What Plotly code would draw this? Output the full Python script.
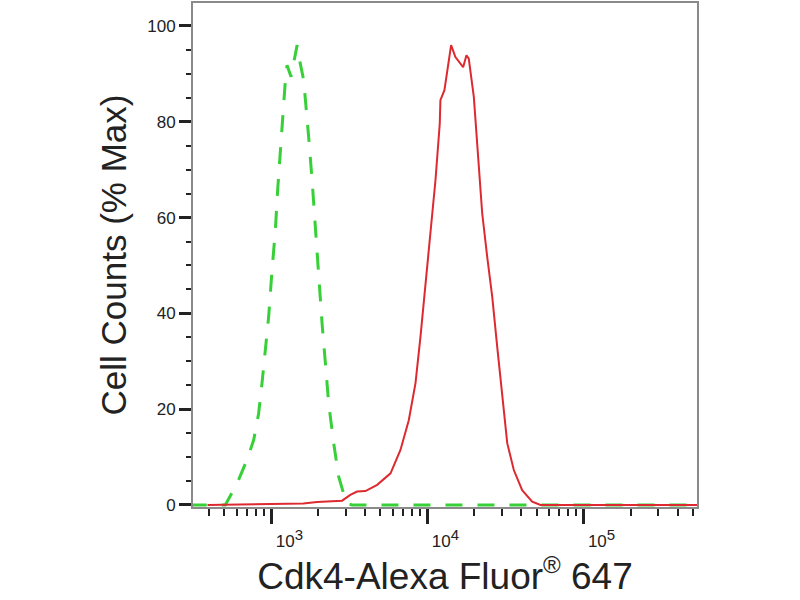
import plotly.graph_objects as go

# Isotype control (green, dashed) - fluorescence vs % of max
control_x = [300, 507, 603, 698, 771, 829, 871, 915, 961, 1010, 1061, 1097, 1142, 1188,
             1230, 1261, 1337, 1462, 1518, 1611, 1676, 1734, 1824, 1915, 2011, 2113,
             2219, 2330, 2508, 2700, 2904, 3054, 3300, 600000]
control_y = [0, 0, 4.5, 9.4, 13.6, 19.1, 25.4, 32.3, 39.3, 49.0, 57.4, 65.7, 74.1, 82.4,
             88.7, 91.8, 89.4, 96.0, 92.8, 88.7, 83.1, 76.8, 67.8, 57.4, 46.9, 37.9,
             29.6, 21.2, 12.9, 5.9, 2.4, 0.3, 0, 0]

# Cdk4 stained sample (red)
cdk4_x = [390, 1603, 1963, 2839, 3206, 3540, 4006, 4765, 5800, 6717, 7594, 8381, 9022,
          9713, 10457, 11258, 11991, 12110, 12846, 13362, 14180, 15108, 15871, 16933,
          17783, 18398, 19822, 20833, 22430, 24151, 26002, 27995, 30141, 32452, 35759,
          40444, 46899, 52985, 600000]
cdk4_y = [0, 0.3, 0.6, 0.9, 2.1, 2.8, 2.9, 4.2, 6.6, 11.5, 17.7, 25.4, 35.1,
          46.3, 57.4, 67.8, 79.6, 84.5, 86.6, 90.8, 96.0, 93.5, 92.5, 91.4,
          93.9, 93.2, 85.2, 74.8, 60.9, 51.8, 43.5, 33.0, 22.6, 12.9, 7.3,
          3.1, 0.7, 0, 0]

x_major = [1e3, 1e4, 1e5]
x_major_text = ['10<sup><span style="font-size:15px">3</span></sup>',
                '10<sup><span style="font-size:15px">4</span></sup>',
                '10<sup><span style="font-size:15px">5</span></sup>']
x_minor = [m * 10 ** e for e in (2, 3, 4, 5) for m in range(2, 10)]

fig = go.Figure()
fig.add_trace(go.Scatter(x=control_x, y=control_y, mode="lines",
                         line=dict(color="#38d038", width=3, dash="17px,15px"),
                         name="Isotype"))
fig.add_trace(go.Scatter(x=cdk4_x, y=cdk4_y, mode="lines",
                         line=dict(color="#dc2a30", width=2),
                         name="Cdk4"))

fig.update_layout(
    width=800, height=600,
    margin=dict(l=193, r=103, t=3, b=93),
    paper_bgcolor="white", plot_bgcolor="white",
    showlegend=False,
    font=dict(family="Liberation Sans, Arial", color="#222"),
)
fig.update_xaxes(
    type="log", range=[2.498, 5.727], automargin=False,
    showgrid=False, zeroline=False,
    showline=True, linecolor="#8a8a8a", linewidth=2, mirror=True,
    tickmode="array", tickvals=x_major, ticktext=x_major_text,
    ticks="outside", ticklen=15, tickwidth=2.5, tickcolor="#222",
    ticklabelshift=18, ticklabelstandoff=3,
    tickfont=dict(size=17, color="#222"),
    minor=dict(tickmode="array", tickvals=x_minor, ticks="outside",
               ticklen=7, tickwidth=1.5, tickcolor="#222"),
    title=dict(text='Cdk4-Alexa Fluor<sup><span style="font-size:24px">®</span></sup> 647',
               font=dict(size=37, color="#222"), standoff=0),
)
fig.update_yaxes(
    range=[-0.42, 104.8], automargin=False,
    showgrid=False, zeroline=False,
    showline=True, linecolor="#8a8a8a", linewidth=2, mirror=True,
    tickmode="array", tickvals=[0, 20, 40, 60, 80, 100],
    ticks="outside", ticklen=12, tickwidth=2.5, tickcolor="#222",
    tickfont=dict(size=17, color="#222"),
    minor=dict(tickmode="array", tickvals=[5, 10, 15, 25, 30, 35, 45, 50, 55, 65, 70, 75, 85, 90, 95],
               ticks="outside", ticklen=5, tickwidth=1.5, tickcolor="#222"),
    title=dict(text="Cell Counts (% Max)", font=dict(size=35, color="#222"), standoff=10),
)

# page body has a default 8px margin; drop it so the figure sits at the corner
fig.write_html("out.html", config={"displayModeBar": False},
               post_script="document.body.style.margin='0';")
